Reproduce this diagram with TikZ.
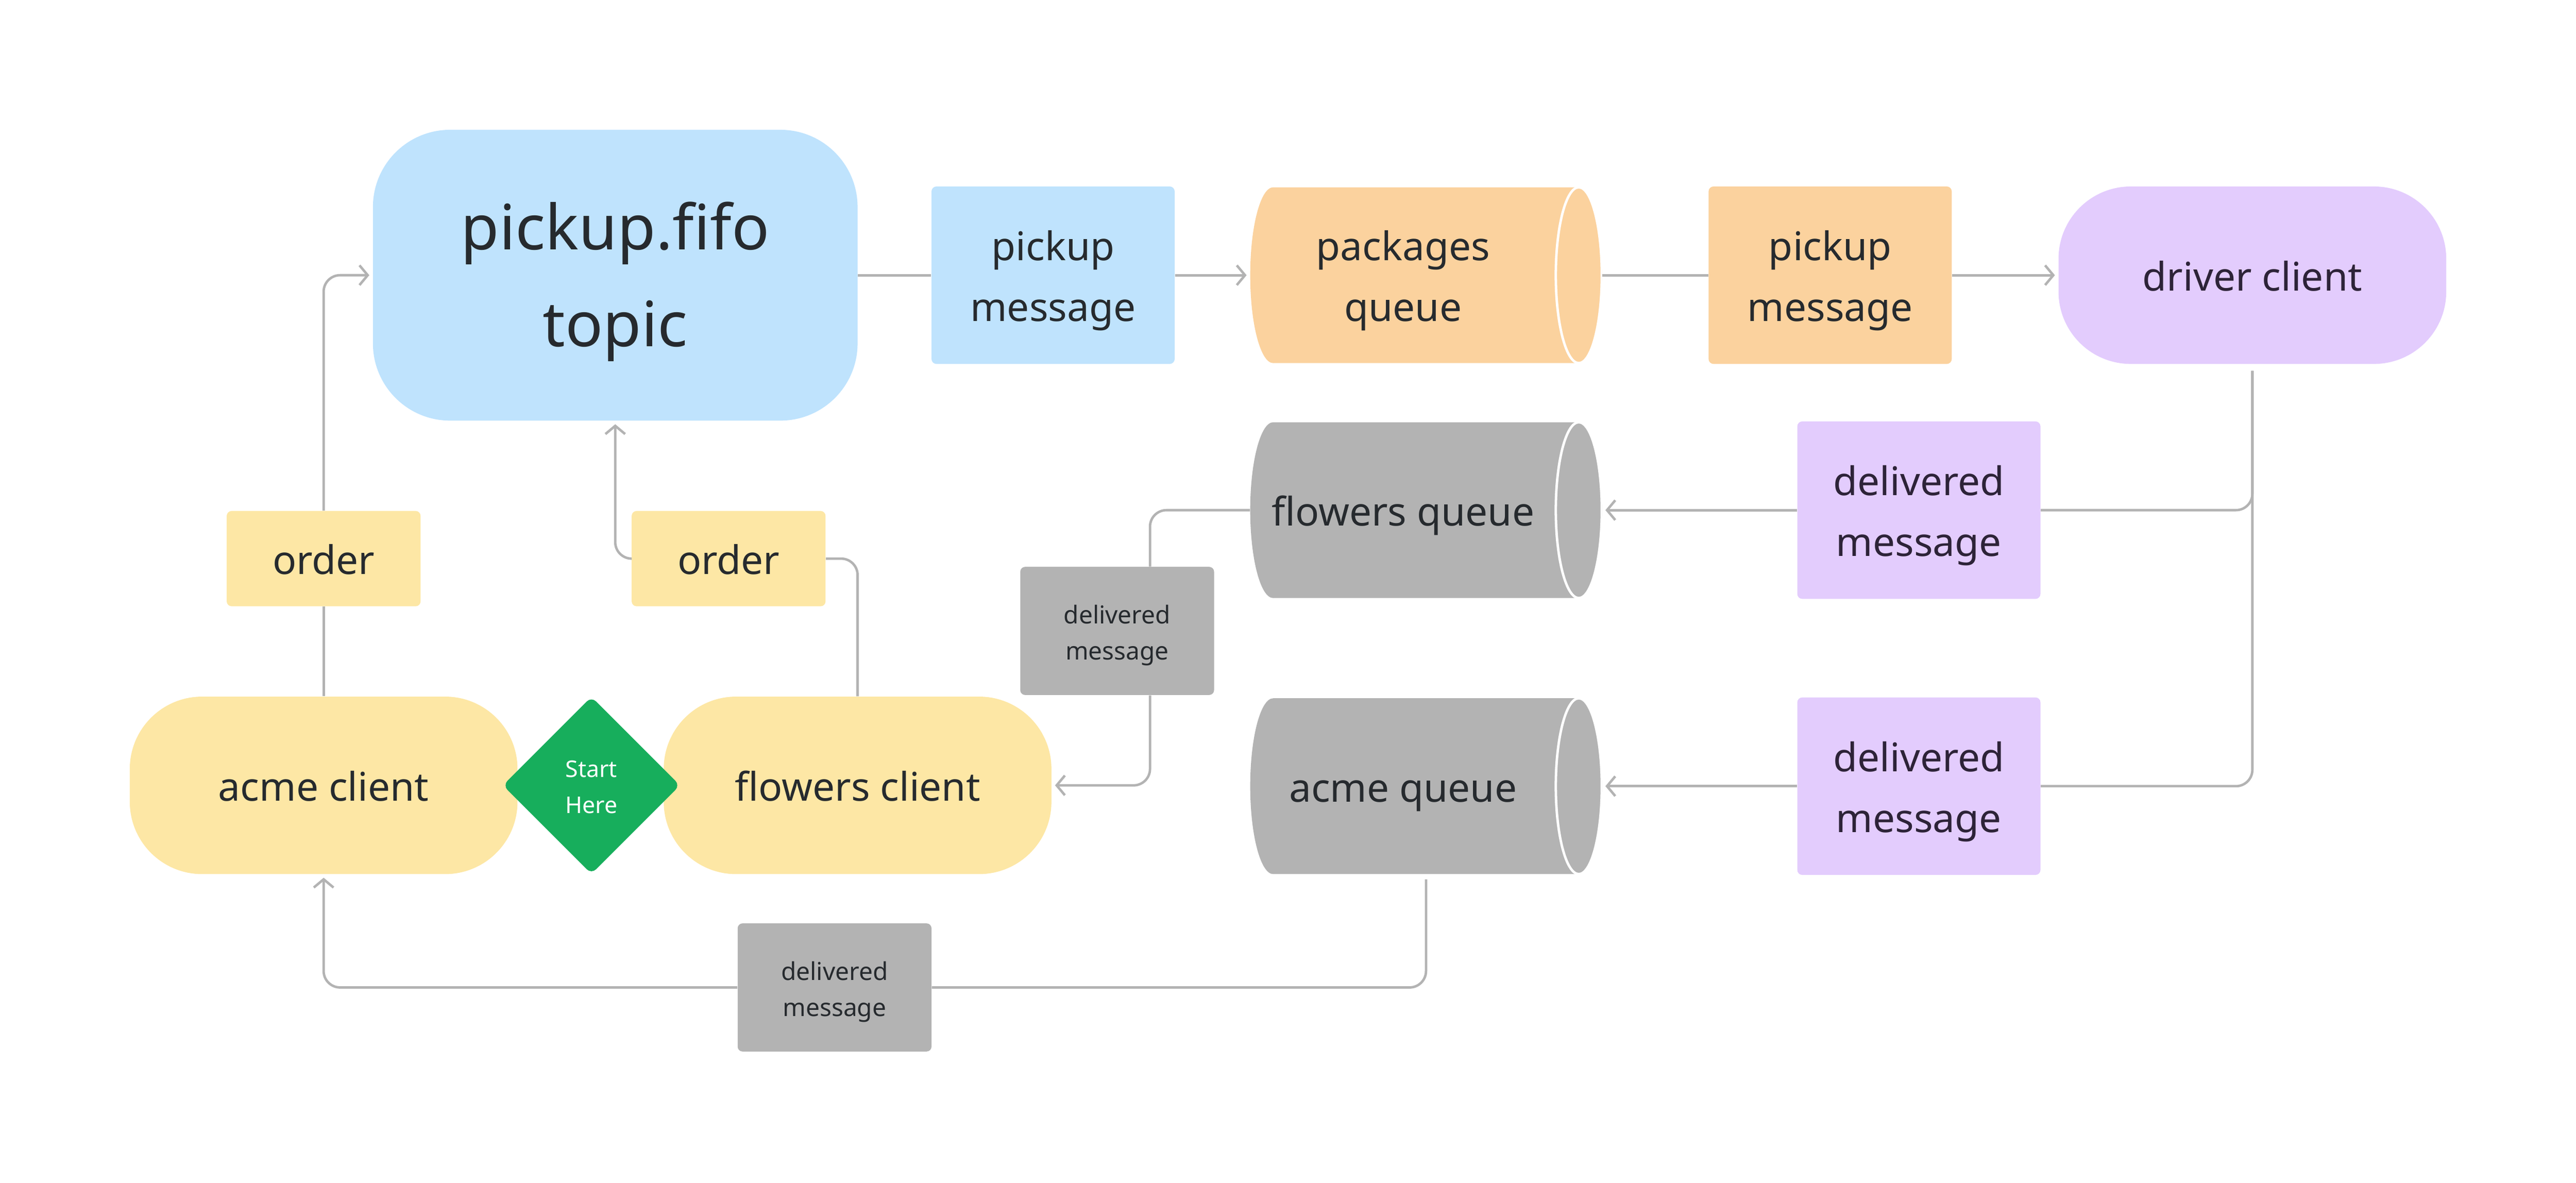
\documentclass[tikz,border=0pt]{standalone}
\usepackage{fontspec}
\setmainfont{Noto Sans}
\usetikzlibrary{shapes.geometric,arrows.meta,calc}
\definecolor{cblue}{HTML}{BFE3FD}
\definecolor{corange}{HTML}{FBD29E}
\definecolor{cpurple}{HTML}{E3CCFD}
\definecolor{cyellow}{HTML}{FDE7A5}
\definecolor{cgray}{HTML}{B3B3B3}
\definecolor{cgreen}{HTML}{17AE5C}
\definecolor{cline}{HTML}{B3B3B3}
\definecolor{ctext}{HTML}{262A2E}
\definecolor{cptext}{HTML}{2D2338}
\begin{document}
\begin{tikzpicture}[x=1pt,y=-1pt,
  conn/.style={draw=cline, line width=1.5pt, rounded corners=10pt},
  arr/.style={conn, -{Straight Barb[length=5pt,width=12pt,line width=1.5pt]}, shorten >=2pt},
  lbl/.style={rectangle, rounded corners=3pt, inner sep=0pt, text=ctext, align=center},
  mainfont/.style={font=\fontsize{24}{37}\selectfont, text height=25pt, text depth=6pt},
  twolines/.style={text height=62pt},
  smallfont/.style={font=\fontsize{15}{22}\selectfont, text height=39pt, text depth=4pt},
  msgbox/.style={lbl, mainfont, twolines, minimum width=148pt, minimum height=108pt},
  smallbox/.style={lbl, smallfont, fill=cgray, minimum width=118pt, minimum height=78pt},
  orderbox/.style={lbl, mainfont, fill=cyellow, minimum width=118pt, minimum height=58pt},
  pill/.style={lbl, mainfont, minimum width=236pt, minimum height=108pt, rounded corners=44pt},
  cyl/.style={rectangle, inner sep=0pt, fill=white, minimum width=214pt, minimum height=107pt,
    path picture={
      \fill[#1] ([xshift=14pt]path picture bounding box.south west)
        arc[start angle=270, end angle=90, x radius=14pt, y radius=53.5pt]
        -- ([xshift=-14pt]path picture bounding box.north east)
        arc[start angle=90, end angle=-90, x radius=14pt, y radius=53.5pt] -- cycle;
      \draw[white, line width=1.5pt] ([xshift=-14pt]path picture bounding box.east)
        ellipse[x radius=14pt, y radius=53.5pt];
    }},
  cyltext/.style={mainfont, text=ctext, inner sep=0pt, align=center}
]
\useasboundingbox (0,0) rectangle (1568,720);

% top row
\node[lbl, fill=cblue, minimum width=295pt, minimum height=177pt, rounded corners=47pt,
      font=\fontsize{38}{59}\selectfont, text height=96pt, text depth=9pt]
      (topic) at (374.5,167.5) {pickup.fifo\\topic};
\node[msgbox, fill=cblue] (pm1) at (641,167.5) {pickup\\message};
\node[cyl=corange] (pq) at (868,167.5) {};
\node[cyltext, twolines] (pqt) at ([xshift=-14pt]pq.center) {packages\\queue};
\node[msgbox, fill=corange] (pm2) at (1114,167.5) {pickup\\message};
\node[pill, fill=cpurple, text=cptext] (dc) at (1371,167.5) {driver client};

% queues
\node[cyl=cgray] (fq) at (868,310.5) {};
\node[cyltext] (fqt) at ([xshift=-14pt]fq.center) {flowers queue};
\node[msgbox, fill=cpurple, text=cptext] (dm1) at (1168,310.5) {delivered\\message};
\node[cyl=cgray] (aq) at (868,478.5) {};
\node[cyltext] (aqt) at ([xshift=-14pt]aq.center) {acme queue};
\node[msgbox, fill=cpurple, text=cptext] (dm2) at (1168,478.5) {delivered\\message};

% small gray labels
\node[smallbox] (gd1) at (680,384) {delivered\\message};
\node[smallbox] (gb) at (508,601) {delivered\\message};

% orders and clients
\node[orderbox] (o1) at (197,340) {order};
\node[orderbox] (o2) at (443.5,340) {order};
\node[pill, fill=cyellow] (ac) at (197,478) {acme client};
\node[pill, fill=cyellow] (fc) at (522,478) {flowers client};
\node[diamond, fill=cgreen, minimum width=108pt, minimum height=108pt, inner sep=0pt,
      rounded corners=4pt, text=white, align=center, font=\fontsize{14}{22}\selectfont,
      text height=34pt, text depth=0pt]
      (start) at (360,478) {Start\\Here};

% connectors
\draw[conn] (topic.east) -- (pm1.west);
\draw[arr] (pm1.east) -- (pq.west);
\draw[conn] (pq.east) -- (pm2.west);
\draw[arr] (pm2.east) -- (dc.west);
\draw[conn, shorten <=4pt] (dc.south) |- (dm1.east);
\draw[conn, shorten <=4pt] (dc.south) |- (dm2.east);
\draw[arr] (dm1.west) -- (fq.east);
\draw[arr] (dm2.west) -- (aq.east);
\coordinate (g1t) at ($(gd1.north)+(20,0)$);
\coordinate (g1b) at ($(gd1.south)+(20,0)$);
\draw[conn] (fq.west) -| (g1t);
\draw[arr] (g1b) |- (fc.east);
\draw[conn, shorten <=3pt] (aq.south) |- (gb.east);
\draw[arr] (gb.west) -| (ac.south);
\draw[conn] (ac.north) -- (o1.south);
\draw[arr] (o1.north) |- (topic.west);
\draw[conn] (fc.north) |- (o2.east);
\draw[arr] (o2.west) -| (topic.south);
\end{tikzpicture}
\end{document}
